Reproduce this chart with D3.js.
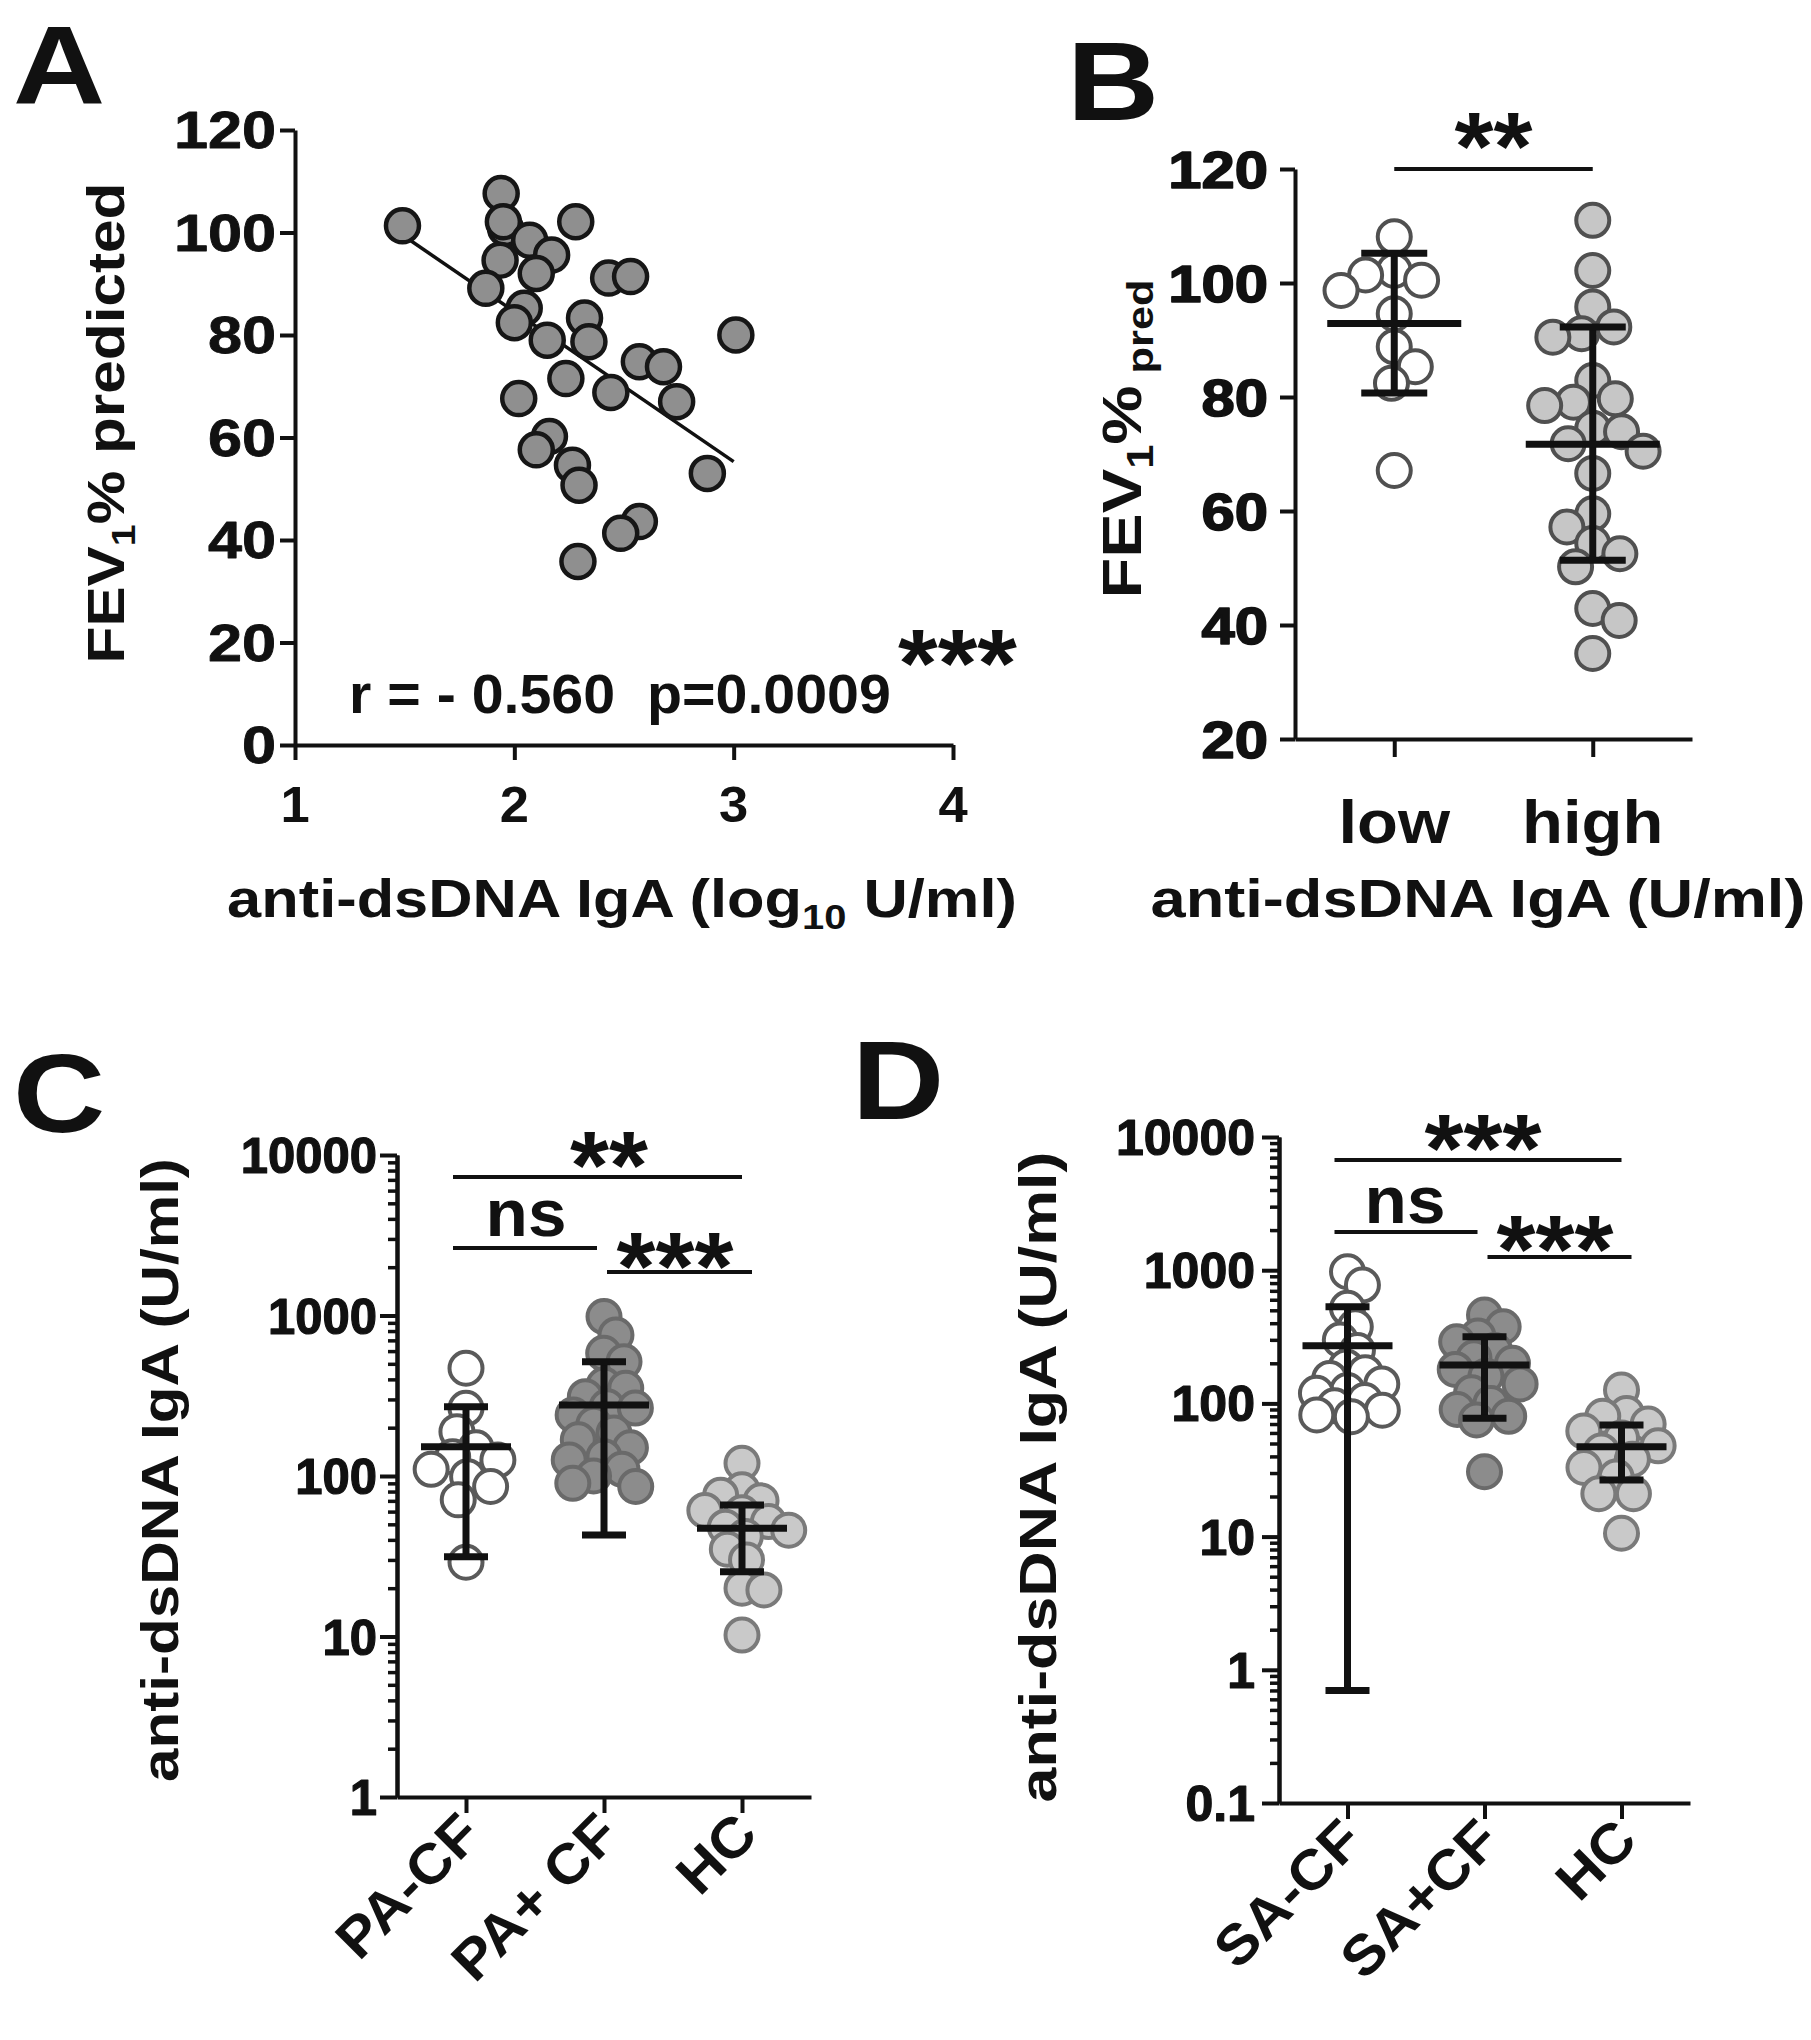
<!DOCTYPE html>
<html><head><meta charset="utf-8">
<script src="https://cdn.jsdelivr.net/npm/d3@7"></script>
<style>
body{margin:0;background:#fff}
svg{display:block}
text{font-family:"Liberation Sans",Arial,sans-serif;font-weight:bold;fill:#111;white-space:pre}
</style>
</head><body>
<svg id="fig" width="1811" height="2040"></svg>
<script>
// ---------------- DATA ----------------
// Panel A: scatter, x = log10 anti-dsDNA IgA, y = FEV1 % predicted
const aX = [1.49,1.94,1.96,1.95,2.07,2.17,1.935,2.10,1.87,2.28,2.43,2.53,2.045,2.0,2.32,2.15,2.34,2.57,2.68,2.235,2.44,2.74,2.02,3.01,2.16,2.10,2.265,2.295,2.88,2.57,2.485,2.29];
const aY = [101.3,107.6,100.8,102.1,98.5,95.6,94.6,92,89.1,102.1,91.1,91.4,85.2,82.4,83.3,79,78.7,74.8,73.8,71.5,68.8,67,67.6,80,60.2,57.6,54.6,50.7,53,43.6,41.3,35.8];
const aFitX = [1.49, 3.0];
const aFitY = [99.5, 55.3];
const aXTicks = [1,2,3,4];
const aYTicks = [0,20,40,60,80,100,120];
const aStat = "r = - 0.560  p=0.0009";
const aSig = "***";

// Panel B
const bCats = ["low","high"];
const bLow  = [108.1,102.2,101.4,100.5,98.7,94.6,88.8,85.3,82.4,67.1];
const bHigh = [111,102.2,95.8,92.3,91.1,90.5,82.9,79.7,79.1,78.5,74.5,73.9,71.8,70.5,66.6,59.5,57.2,54.3,52.5,50.2,42.9,40.8,35];
const bMean  = [92.9, 71.7];
const bUpper = [105.2, 92.3];
const bLower = [80.7, 51.35];
const bYTicks = [20,40,60,80,100,120];
const bSig = "**";

// Panel C
const cCats = ["PA-CF","PA+ CF","HC"];
const cPAneg = [469,264,189,150,132,126,110,99,86,71,29];
const cPApos = [984,755,581,515,369,352,312,270,265,240,210,185,168,150,132,126,110,100,90,86];
const cHC    = [120,82,76,70,61,59,52,48,46,42,35,30,20,19.5,10.2];
const cMean  = [152, 277, 47.2];
const cUpper = [270, 515, 66];
const cLower = [31.4, 42.9, 25.3];
const cYTicks = [1,10,100,1000,10000];
const cSig = ["**","ns","***"];

// Panel D
const dCats = ["SA-CF","SA+CF","HC"];
const dSAneg = [973,773,517,376,299,250,188,170,154,140,125,119,105,96,89,82,79.5];
const dSApos = [460,376,320,290,250,220,200,180,160,140,120,100,90,80,75,30.7];
const dHC    = [126,84,80,70,62,55,48,44,38,33,28,21,21,10.6];
const dMean  = [271, 194, 47.3];
const dUpper = [531, 316, 68.9];
const dLower = [0.7, 77.3, 26.6];
const dYTicks = [0.1,1,10,100,1000,10000];
const dSig = ["***","ns","***"];

// ---------------- HELPERS ----------------
const svg = d3.select("#fig");
const AX_W = 4;

function label(g, x, y, parts, o) {
  const size = o.size;
  const t = g.append("text")
    .attr("font-size", size)
    .attr("text-anchor", o.anchor || "start");
  let sub = false;
  parts.forEach(p => {
    const isSub = !!p[1];
    const ts = t.append("tspan").text(p[0]);
    if (isSub && !sub) ts.attr("dy", size * 0.22);
    if (!isSub && sub) ts.attr("dy", -size * 0.22);
    if (isSub) ts.attr("font-size", size * 0.65);
    sub = isSub;
  });
  if (o.heavy) t.attr("stroke", "#111").attr("stroke-width", o.heavy).attr("stroke-linejoin","round");
  let sx = o.sx || 1;
  if (o.len) {
    const L = t.node().getComputedTextLength();
    sx = o.len / L;
  }
  t.attr("transform", `translate(${x},${y}) rotate(${o.rot || 0}) scale(${sx},1)`);
  return t;
}

function line(g, x1, y1, x2, y2, w) {
  g.append("line").attr("x1", x1).attr("y1", y1).attr("x2", x2).attr("y2", y2)
    .attr("stroke", "#111").attr("stroke-width", w).attr("stroke-linecap", "butt");
}

function swarm(vals, ys, cx, D) {
  const pts = vals.map(v => ({v, y: ys(v)})).sort((a, b) => a.y - b.y);
  const placed = [];
  let flip = 1;
  pts.forEach(p => {
    const cands = [0];
    placed.forEach(q => {
      const dy = Math.abs(q.y - p.y);
      if (dy < D) {
        const dx = Math.sqrt(D * D - dy * dy);
        cands.push(q.dx + dx, q.dx - dx);
      }
    });
    cands.sort((a, b) => (Math.abs(a) - Math.abs(b)) || (flip * (a - b)));
    for (const c of cands) {
      if (placed.every(q => (q.dx - c) ** 2 + (q.y - p.y) ** 2 >= D * D - 0.01)) { p.dx = c; break; }
    }
    if (p.dx === undefined) p.dx = 0;
    flip = -flip;
    placed.push(p);
  });
  return placed.map(p => ({v: p.v, x: cx + p.dx, y: p.y}));
}

function dots(g, pts, r, fill, stroke, sw) {
  g.selectAll(null).data(pts).enter().append("circle")
    .attr("cx", d => d.x).attr("cy", d => d.y).attr("r", r)
    .attr("fill", fill).attr("stroke", stroke).attr("stroke-width", sw);
}

function errBar(g, cx, ys, mean, up, lo, wm, wc) {
  line(g, cx, ys(up), cx, ys(lo), 7);
  line(g, cx - wc, ys(up), cx + wc, ys(up), 7);
  line(g, cx - wc, ys(lo), cx + wc, ys(lo), 7);
  line(g, cx - wm, ys(mean), cx + wm, ys(mean), 7);
}

function styleAxis(sel) {
  sel.selectAll("path").attr("stroke", "#111").attr("stroke-width", AX_W);
  sel.selectAll("line").attr("stroke", "#111").attr("stroke-width", AX_W);
  sel.selectAll("text").remove();
}

const R = 16.5;

// ---------------- PANEL A ----------------
{
  const g = svg.append("g");
  const x = d3.scaleLinear().domain([1, 4]).range([295, 953]);
  const y = d3.scaleLinear().domain([0, 120]).range([745, 130]);
  const xa = g.append("g").attr("transform", `translate(0,${y(0)})`)
    .call(d3.axisBottom(x).tickValues(aXTicks).tickSize(15).tickSizeOuter(0));
  styleAxis(xa);
  const ya = g.append("g").attr("transform", `translate(${x(1)},0)`)
    .call(d3.axisLeft(y).tickValues(aYTicks).tickSize(15).tickSizeOuter(0));
  styleAxis(ya);
  aYTicks.forEach(v => label(g, x(1) - 19, y(v) + 18, [[String(v)]], {size: 51, anchor: "end", sx: 1.2, heavy: 0.8}));
  aXTicks.forEach(v => label(g, x(v), 822, [[String(v)]], {size: 50, anchor: "middle", sx: 1.05}));
  label(g, 622, 917, [["anti-dsDNA IgA (log"], ["10", 1], [" U/ml)"]], {size: 54, anchor: "middle", len: 790});
  label(g, 124, 423, [["FEV"], ["1", 1], ["% predicted"]], {size: 52, anchor: "middle", rot: -90, len: 481});
  // fit line
  g.append("path").datum(aFitX.map((v, i) => [v, aFitY[i]]))
    .attr("d", d3.line().x(d => x(d[0])).y(d => y(d[1])))
    .attr("stroke", "#111").attr("stroke-width", 3.5).attr("fill", "none");
  dots(g, aX.map((v, i) => ({x: x(v), y: y(aY[i])})), R, "#8f8f8f", "#161616", 4.5);
  label(g, 349, 713, [[aStat]], {size: 55, anchor: "start", len: 542});
  label(g, 898, 696, [[aSig]], {size: 96, anchor: "start", len: 119});
  label(g, 13, 104, [["A"]], {size: 112, anchor: "start", sx: 1.14});
}

// ---------------- PANEL B ----------------
{
  const g = svg.append("g");
  const x = d3.scalePoint().domain(bCats).range([1295, 1692]).padding(0.5);
  const y = d3.scaleLinear().domain([20, 120]).range([739, 169]);
  const xa = g.append("g").attr("transform", `translate(0,${y(20)})`)
    .call(d3.axisBottom(x).tickSize(18).tickSizeOuter(0));
  styleAxis(xa);
  const ya = g.append("g").attr("transform", `translate(1295,0)`)
    .call(d3.axisLeft(y).tickValues(bYTicks).tickSize(15).tickSizeOuter(0));
  styleAxis(ya);
  bYTicks.forEach(v => label(g, 1268, y(v) + 19, [[String(v)]], {size: 52, anchor: "end", sx: 1.15, heavy: 1.6}));
  bCats.forEach(c => label(g, x(c), 843, [[c]], {size: 62, anchor: "middle", sx: 1.08}));
  label(g, 1478, 917, [["anti-dsDNA IgA (U/ml)"]], {size: 54, anchor: "middle", len: 655});
  label(g, 1141, 439, [["FEV"], ["1", 1], ["%"], [" pred", 1]], {size: 56, anchor: "middle", rot: -90, len: 319});
  const groups = [bLow, bHigh];
  const fills = ["#ffffff", "#c6c6c6"];
  groups.forEach((vals, i) => {
    dots(g, swarm(vals, y, x(bCats[i]), 29), R, fills[i], "#505050", 4);
  });
  bCats.forEach((c, i) => errBar(g, x(c), y, bMean[i], bUpper[i], bLower[i], 67, 33));
  line(g, x(bCats[0]), 169, x(bCats[1]), 169, 4);
  label(g, (x(bCats[0]) + x(bCats[1])) / 2, 179, [[bSig]], {size: 96, anchor: "middle", len: 78});
  label(g, 1067, 120, [["B"]], {size: 112, anchor: "start", sx: 1.14});
}

// ---------------- LOG PANELS ----------------
function logPanel(o) {
  const g = svg.append("g");
  const x = d3.scalePoint().domain(o.cats).range(o.xr).padding(0.5);
  const y = d3.scaleLog().domain(o.yd).range(o.yr);
  const ax0 = o.xr[0];
  const xa = g.append("g").attr("transform", `translate(0,${o.yr[0]})`)
    .call(d3.axisBottom(x).tickSize(16).tickSizeOuter(0));
  styleAxis(xa);
  const minor = [];
  const lo = Math.round(Math.log10(o.yd[0])), hi = Math.round(Math.log10(o.yd[1]));
  for (let k = lo; k < hi; k++) for (let m = 2; m <= 9; m++) minor.push(m * Math.pow(10, k));
  const ym = g.append("g").attr("transform", `translate(${ax0},0)`)
    .call(d3.axisLeft(y).tickValues(minor).tickSize(9).tickSizeOuter(0));
  styleAxis(ym);
  ym.selectAll("line").attr("stroke-width", 3.5);
  const ya = g.append("g").attr("transform", `translate(${ax0},0)`)
    .call(d3.axisLeft(y).tickValues(o.ticks).tickSize(17).tickSizeOuter(0));
  styleAxis(ya);
  o.ticks.forEach(v => label(g, o.tickRight, y(v) + 18, [[String(v)]], {size: 50, anchor: "end", sx: o.tickSx, heavy: 1.2}));
  o.cats.forEach(c => label(g, x(c) + 18, o.yr[0] + 40, [[c]], {size: 56, anchor: "end", rot: -45, sx: 1.06}));
  label(g, o.ylab[0], o.ylab[1], [["anti-dsDNA IgA (U/ml)"]], {size: 52, anchor: "middle", rot: -90, len: o.ylab[2]});
  o.groups.forEach((vals, i) => {
    dots(g, swarm(vals, y, x(o.cats[i]), o.D[i]), R, o.fills[i], o.strokes[i], 4);
  });
  o.cats.forEach((c, i) => errBar(g, x(c), y, o.mean[i], o.upper[i], o.lower[i], 45, 22));
  // significance
  const xc = o.cats.map(c => x(c));
  const s = o.sig;
  line(g, xc[0] - 13, s.y[0], xc[2], s.y[0], 4);
  line(g, xc[0] - 13, s.y[1], xc[1] - 7, s.y[1], 4);
  line(g, xc[1] + 3, s.y[2], xc[2] + 10, s.y[2], 4);
  s.text.forEach((t, i) => {
    const cx = s.cx[i];
    if (t === "ns") label(g, cx, s.base[i], [[t]], {size: 66, anchor: "middle", sx: 1.05});
    else label(g, cx, s.base[i], [[t]], {size: 96, anchor: "middle", len: t.length * 39});
  });
  label(g, o.letter[1], o.letter[2], [[o.letter[0]]], {size: 112, anchor: "start", sx: 1.14});
}

logPanel({
  cats: cCats, xr: [397, 811], yd: [1, 10000], yr: [1797, 1155], ticks: cYTicks, tickRight: 377, tickSx: 0.98,
  ylab: [178, 1470, 624], D: [25, 22, 22],
  groups: [cPAneg, cPApos, cHC],
  fills: ["#ffffff", "#8c8c8c", "#c9c9c9"], strokes: ["#5a5a5a", "#6a6a6a", "#7a7a7a"],
  mean: cMean, upper: cUpper, lower: cLower,
  sig: {y: [1177, 1248, 1272], text: cSig, cx: [609, 526, 675], base: [1198, 1236, 1299]},
  letter: ["C", 13, 1132]
});

logPanel({
  cats: dCats, xr: [1279, 1690], yd: [0.1, 10000], yr: [1803, 1137], ticks: dYTicks, tickRight: 1255, tickSx: 1.0,
  ylab: [1056, 1477, 651], D: [20, 22, 24],
  groups: [dSAneg, dSApos, dHC],
  fills: ["#ffffff", "#8c8c8c", "#c9c9c9"], strokes: ["#5a5a5a", "#6a6a6a", "#7a7a7a"],
  mean: dMean, upper: dUpper, lower: dLower,
  sig: {y: [1160, 1232, 1257], text: dSig, cx: [1483, 1405, 1555], base: [1181, 1223, 1282]},
  letter: ["D", 852, 1119]
});
</script>
</body></html>
